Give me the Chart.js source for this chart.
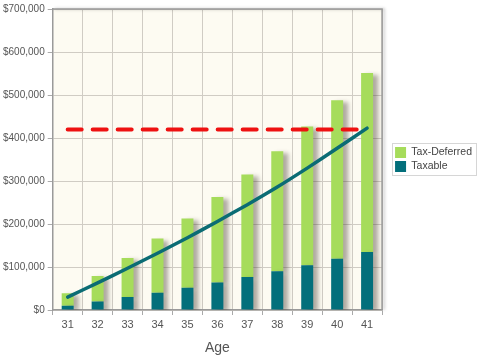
<!DOCTYPE html>
<html>
<head>
<meta charset="utf-8">
<script src="https://cdn.jsdelivr.net/npm/chart.js@4/dist/chart.umd.min.js"></script>
<style>
  html, body { margin: 0; padding: 0; background: #ffffff; }
  #wrap { width: 500px; height: 363px; position: relative; }
</style>
</head>
<body>
<div id="wrap"><canvas id="c" width="500" height="363"></canvas></div>
<script>
const ages = ['31','32','33','34','35','36','37','38','39','40','41'];
const taxable = [10000, 20000, 30000, 40000, 52000, 64000, 77000, 90000, 104000, 119000, 135000];
const taxDeferred = [29000, 59000, 91000, 126000, 161000, 199000, 238000, 279000, 323000, 369000, 416000];
const growthLine = [30000, 63000, 97000, 132000, 168000, 206000, 245000, 286000, 330000, 376000, 423000];
const targetLine = [420000, 420000, 420000, 420000, 420000, 420000, 420000, 420000, 420000, 420000, 420000];
const yTicks = [0, 100000, 200000, 300000, 400000, 500000, 600000, 700000];

const FONT = 'Liberation Sans';
const LEGEND_GAP = 10;

const areaBg = {
  id: 'areaBg',
  afterLayout(chart) {
    const lg = chart.legend;
    if (lg) { lg.left += LEGEND_GAP; lg.right += LEGEND_GAP; }
  },
  beforeDraw(chart) {
    const {ctx, chartArea: a} = chart;
    ctx.save();
    ctx.fillStyle = '#fdfbf2';
    ctx.fillRect(a.left, a.top, a.right - a.left, a.bottom - a.top);
    ctx.restore();
  },
  afterDraw(chart) {
    const {ctx, chartArea: a} = chart;
    ctx.save();
    ctx.strokeStyle = '#9a9a9a';
    ctx.lineWidth = 1.5;
    ctx.shadowColor = 'rgba(0,0,0,0.25)';
    ctx.shadowOffsetX = 2;
    ctx.shadowOffsetY = 0;
    ctx.shadowBlur = 3;
    ctx.beginPath();
    ctx.moveTo(a.left, a.top);
    ctx.lineTo(a.right, a.top);
    ctx.lineTo(a.right, a.bottom);
    ctx.stroke();
    ctx.restore();
    const lg = chart.legend;
    if (lg && lg.legendHitBoxes && lg.legendHitBoxes.length) {
      let l = Infinity, t = Infinity, r = -Infinity, b = -Infinity;
      lg.legendHitBoxes.forEach(h => {
        l = Math.min(l, h.left); t = Math.min(t, h.top);
        r = Math.max(r, h.left + h.width); b = Math.max(b, h.top + h.height);
      });
      ctx.save();
      ctx.strokeStyle = '#d6d6d6';
      ctx.lineWidth = 1;
      ctx.strokeRect(Math.round(l - 3) + 0.5, Math.round(t - 4) + 0.5, Math.round(r - l + 7), Math.round(b - t + 7));
      ctx.restore();
    }
  }
};

const barShadow = {
  id: 'barShadow',
  beforeDatasetDraw(chart, args) {
    if (args.meta.type !== 'bar') return;
    const ctx = chart.ctx;
    ctx.save();
    ctx.shadowColor = 'rgba(60,50,40,0.4)';
    ctx.shadowOffsetX = 5;
    ctx.shadowOffsetY = 2;
    ctx.shadowBlur = 4;
  },
  afterDatasetDraw(chart, args) {
    if (args.meta.type !== 'bar') return;
    chart.ctx.restore();
  }
};

new Chart(document.getElementById('c'), {
  type: 'bar',
  data: {
    labels: ages,
    datasets: [
      {
        type: 'line', label: 'Target', data: targetLine, stack: 'target',
        borderColor: '#ee1111', borderWidth: 4, borderDash: [14, 11],
        borderCapStyle: 'round', pointRadius: 0, fill: false, tension: 0
      },
      {
        type: 'line', label: 'Growth', data: growthLine, stack: 'growth',
        borderColor: '#0b6c74', borderWidth: 3.5, borderCapStyle: 'round',
        pointRadius: 0, fill: false, tension: 0.2
      },
      {
        label: 'Taxable', data: taxable, stack: 'bars',
        backgroundColor: '#036f7b', barPercentage: 0.4, categoryPercentage: 1
      },
      {
        label: 'Tax-Deferred', data: taxDeferred, stack: 'bars',
        backgroundColor: '#a6dc5b', barPercentage: 0.4, categoryPercentage: 1
      }
    ]
  },
  options: {
    responsive: false,
    animation: false,
    devicePixelRatio: 1,
    layout: { padding: { top: 2, right: 28, bottom: 6, left: 0 } },
    plugins: {
      tooltip: { enabled: false },
      legend: {
        position: 'right',
        fullSize: false,
        reverse: true,
        labels: {
          filter: item => item.text === 'Taxable' || item.text === 'Tax-Deferred',
          boxWidth: 11, boxHeight: 11, padding: 3,
          color: '#444', font: { family: FONT, size: 10.5 }
        }
      }
    },
    scales: {
      x: {
        stacked: true,
        grid: { color: '#d0ccc4', offset: true, tickLength: 5, tickColor: '#aaa' },
        border: { color: '#9a9a9a', width: 1.5 },
        ticks: { color: '#555', font: { family: FONT, size: 11 }, padding: 3 },
        title: { display: true, text: 'Age', color: '#555', font: { family: FONT, size: 14 }, padding: { top: 6, bottom: 0 } }
      },
      y: {
        stacked: true,
        min: 0, max: 700000,
        afterBuildTicks: axis => { axis.ticks = yTicks.map(v => ({ value: v })); },
        grid: { color: '#d0ccc4', tickLength: 5, tickColor: '#aaa' },
        border: { color: '#9a9a9a', width: 1.5 },
        ticks: {
          color: '#555', font: { family: FONT, size: 10 }, padding: 3,
          callback: v => '$' + Number(v).toLocaleString('en-US')
        }
      }
    }
  },
  plugins: [areaBg, barShadow]
});
</script>
</body>
</html>
